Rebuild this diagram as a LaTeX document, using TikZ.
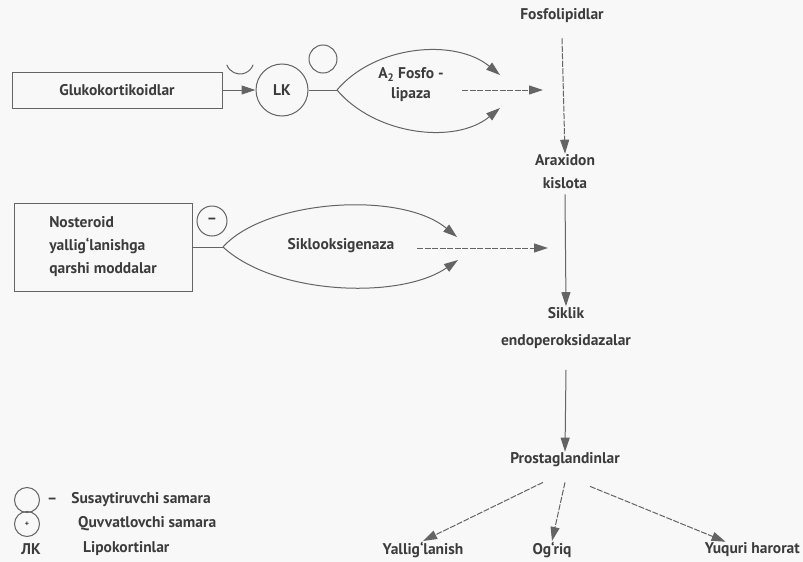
\documentclass[tikz,border=0pt]{standalone}
\usepackage{fontspec}
\setmainfont{PT Sans}
\usepackage{xcolor}
\usetikzlibrary{arrows.meta,positioning}

\definecolor{inkgray}{RGB}{60,60,60}
\definecolor{linegray}{RGB}{100,100,100}
\definecolor{paper}{RGB}{248,248,248}

\begin{document}
\begin{tikzpicture}[
    x=1pt, y=-1pt,
    font=\fontsize{15.5}{23}\selectfont\bfseries,
    text=inkgray,
    box/.style={draw=linegray, line width=1pt, align=center, inner sep=3pt},
    term/.style={align=center, inner sep=1pt},
    ring/.style={circle, draw=linegray, line width=1pt, inner sep=0pt},
    link/.style={draw=linegray, line width=1pt},
    arrow/.style={link, -{Triangle[length=14pt, width=9pt]}},
    dasharrow/.style={arrow, dash pattern=on 6pt off 1.5pt}
]
\useasboundingbox[fill=paper] (0,0) rectangle (803,562);

% --- glucocorticoid branch ---
\node[box, minimum width=210, minimum height=36] (glu) at (117,90) {Glukokortikoidlar};
\node[ring, minimum size=52] (lk) at (282,90) {LK};
\node[ring, minimum size=28] (inh) at (323,59) {};
\draw[link] (226.8,64.8) arc[start angle=160, end angle=20, radius=14];
\draw[arrow] (glu) -- (lk);

% fork round phospholipase A2
\coordinate (fork1) at (337,90);
\coordinate (pla top) at (500,75);
\coordinate (pla bot) at (500,108);
\coordinate (pla in) at (462,90);
\coordinate (pla out) at (543,90);
\draw[link] (lk) -- (fork1);
\draw[arrow] (fork1) .. controls (375,45) and (455,38) .. (pla top);
\draw[arrow] (fork1) .. controls (375,135) and (455,145) .. (pla bot);
\draw[dasharrow] (pla in) -- (pla out);
\node[term] (pla) at (411,85) {A\textsubscript{2} Fosfo -\\[-3pt]lipaza};

% --- main cascade ---
\node[term] (fos) at (562,16) {Fosfolipidlar};
\node[term] (ara) at (565,172) {Araxidon\\kislota};
\node[term] (sik) at (566,328) {Siklik\\[4pt]endoperoksidazalar};
\node[term] (pro) at (565,460) {Prostaglandinlar};

\draw[dasharrow] ([yshift=-14pt]fos.south) -- (ara.north);
\draw[arrow] ([yshift=-4pt]ara.south) -- (sik.north);
\draw[arrow] ([yshift=-20pt]sik.south) -- (pro.north);

% --- NSAID branch ---
\node[box, minimum width=178, minimum height=88, align=left] (nsaid) at (103,247)
    {Nosteroid\\yallig`lanishga\\qarshi moddalar};
\node[ring, minimum size=30] (nsinh) at (212,221) {--};
\coordinate (fork2) at (223,247);
\coordinate (cox top) at (457,237);
\coordinate (cox bot) at (458,260);
\coordinate (cox in) at (417,248);
\coordinate (cox out) at (548,248);
\draw[link] (nsaid) -- (fork2);
\draw[arrow] (fork2) .. controls (265,200) and (400,190) .. (cox top);
\draw[arrow] (fork2) .. controls (275,295) and (400,300) .. (cox bot);
\draw[dasharrow] (cox in) -- (cox out);
\node[term] (cox) at (341,246) {Siklooksigenaza};

% --- effects of prostaglandins ---
\node[term] (yal) at (423,550) {Yallig`lanish};
\node[term] (ogr) at (552,550) {Og`riq};
\node[term, anchor=east] (yuq) at (801,550) {Yuquri harorat};

\draw[dasharrow] ([xshift=-22pt,yshift=-14pt]pro.south) -- (yal.north);
\draw[dasharrow] ([yshift=-14pt]pro.south) -- (ogr.north);
\draw[dasharrow] ([xshift=25pt,yshift=-18pt]pro.south) -- ([xshift=22pt]yuq.north west);

% --- legend ---
\node[ring, minimum size=25] (leg1) at (27,500) {};
\node[term, anchor=west] (leg1t) at (46,500) {--\hspace{14pt}Susaytiruvchi samara};
\node[ring, minimum size=25] (leg2) at (27,524) {\fontsize{8}{8}\selectfont +};
\node[term, anchor=west] (leg2t) at (77,524) {Quvvatlovchi samara};
\node[term] (leg3) at (31,549) {ЛК};
\node[term, anchor=west] (leg3t) at (82,549) {Lipokortinlar};

\end{tikzpicture}
\end{document}
